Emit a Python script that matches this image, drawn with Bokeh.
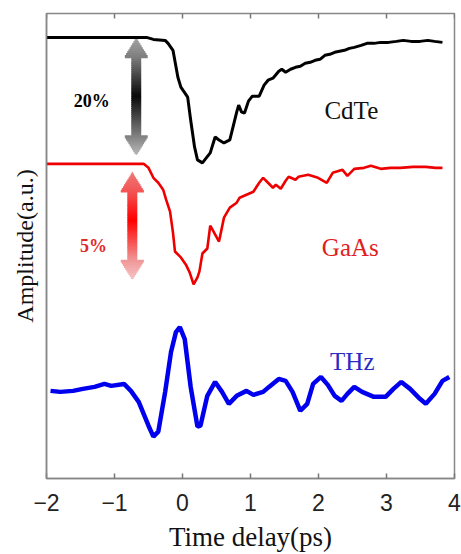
from bokeh.plotting import figure
from bokeh.models import Range1d, LinearAxis, FixedTicker, Label, ColumnDataSource
from bokeh.embed import file_html
from bokeh.resources import INLINE

# ---------------- data ----------------
x_ticks = [-2, -1, 0, 1, 2, 3, 4]
x_title = "Time delay(ps)"
y_title = "Amplitude(a.u.)"

cdte_t = [-2.0, -0.529, -0.428, -0.255, -0.212, -0.140, -0.068, -0.024, 0.076, 0.120,
          0.177, 0.220, 0.293, 0.350, 0.408, 0.480, 0.537, 0.610, 0.696, 0.797,
          0.826, 0.869, 0.912, 0.970, 1.027, 1.128, 1.200, 1.258, 1.330, 1.416,
          1.460, 1.517, 1.589, 1.661, 1.733, 1.805, 1.878, 1.950, 2.022, 2.094,
          2.166, 2.238, 2.310, 2.382, 2.454, 2.526, 2.627, 2.713, 2.814, 2.915,
          3.030, 3.146, 3.246, 3.362, 3.491, 3.607, 3.707, 3.823]
cdte_amp = [4.43, 4.43, 4.41, 4.40, 4.37, 4.30, 4.03, 3.93, 3.83, 3.60,
            3.33, 3.20, 3.17, 3.22, 3.27, 3.43, 3.40, 3.37, 3.40, 3.68,
            3.75, 3.68, 3.67, 3.79, 3.84, 3.84, 3.95, 4.00, 4.02, 4.09,
            4.11, 4.08, 4.11, 4.13, 4.14, 4.17, 4.18, 4.20, 4.21, 4.25,
            4.26, 4.28, 4.29, 4.30, 4.32, 4.33, 4.35, 4.37, 4.37, 4.38,
            4.38, 4.39, 4.40, 4.39, 4.39, 4.40, 4.39, 4.38]

gaas_t = [-2.0, -0.572, -0.500, -0.428, -0.356, -0.284, -0.241, -0.183, -0.140, -0.111,
          -0.024, 0.048, 0.105, 0.163, 0.220, 0.249, 0.293, 0.365, 0.408, 0.465,
          0.537, 0.610, 0.696, 0.797, 0.840, 0.941, 1.042, 1.128, 1.186, 1.258,
          1.330, 1.373, 1.445, 1.517, 1.561, 1.661, 1.705, 1.849, 1.993, 2.122,
          2.209, 2.353, 2.425, 2.526, 2.670, 2.771, 2.915, 3.059, 3.203, 3.390,
          3.578, 3.722, 3.823]
gaas_amp = [3.16, 3.16, 3.12, 3.02, 2.97, 2.90, 2.80, 2.68, 2.47, 2.28,
            2.22, 2.15, 2.07, 1.95, 2.02, 2.08, 2.26, 2.31, 2.54, 2.47,
            2.38, 2.62, 2.72, 2.77, 2.82, 2.85, 2.88, 2.97, 3.02, 2.97,
            2.92, 2.95, 2.91, 2.99, 3.03, 3.00, 3.03, 3.05, 3.02, 2.97,
            3.07, 3.10, 3.04, 3.11, 3.12, 3.14, 3.11, 3.12, 3.12, 3.13,
            3.13, 3.12, 3.12]

thz_t = [-1.941, -1.797, -1.610, -1.465, -1.293, -1.148, -1.048, -0.860, -0.759, -0.644,
         -0.500, -0.428, -0.356, -0.255, -0.169, -0.097, -0.039, 0.033, 0.120, 0.220,
         0.264, 0.365, 0.480, 0.581, 0.682, 0.797, 0.941, 1.042, 1.186, 1.272,
         1.416, 1.517, 1.618, 1.733, 1.834, 1.921, 2.036, 2.137, 2.238, 2.339,
         2.425, 2.526, 2.641, 2.814, 2.987, 3.102, 3.218, 3.347, 3.491, 3.578,
         3.707, 3.823, 3.924]
thz_amp = [0.88, 0.87, 0.88, 0.90, 0.92, 0.95, 0.93, 0.95, 0.88, 0.77,
           0.53, 0.42, 0.47, 0.87, 1.27, 1.47, 1.52, 1.40, 0.92, 0.52,
           0.53, 0.83, 0.97, 0.87, 0.75, 0.83, 0.88, 0.84, 0.87, 0.92,
           1.00, 0.98, 0.87, 0.68, 0.75, 0.95, 1.02, 0.94, 0.83, 0.78,
           0.85, 0.92, 0.87, 0.82, 0.82, 0.90, 0.97, 0.90, 0.80, 0.75,
           0.85, 0.98, 1.02]

# arrows marking the relative change: (x centre, top, bottom)
arrow_cdte = (-0.680, 4.43, 3.25)
arrow_gaas = (-0.738, 3.08, 2.00)

# ---------------- figure ----------------
SERIF = "Liberation Serif"
SANS = "Liberation Sans"

YMAX = 4.67
p = figure(width=461, height=554, output_backend="svg", toolbar_location=None,
           x_range=Range1d(-2, 4), y_range=Range1d(0, YMAX),
           min_border_left=46, min_border_right=7, min_border_top=13,
           min_border_bottom=74, x_axis_location=None, y_axis_location=None)
p.grid.visible = False
p.background_fill_color = "white"
p.border_fill_color = "white"
p.outline_line_color = "#888888"
p.outline_line_width = 1.5

xb = LinearAxis(ticker=FixedTicker(ticks=x_ticks), axis_label=x_title)
xb.major_tick_in = 5
xb.major_tick_out = 0
xb.minor_tick_line_color = None
xb.major_tick_line_color = "#777777"
xb.major_tick_line_width = 1.5
xb.axis_line_color = "#888888"
xb.axis_line_width = 1.5
xb.major_label_text_font = SANS
xb.major_label_text_font_size = "23px"
xb.major_label_text_color = "#222222"
xb.major_label_standoff = 15
xb.axis_label_text_font = SERIF
xb.axis_label_text_font_size = "27px"
xb.axis_label_text_font_style = "normal"
xb.axis_label_text_color = "#111111"
xb.axis_label_standoff = 8
p.add_layout(xb, "below")

yl = LinearAxis(ticker=FixedTicker(ticks=[]), axis_label=y_title)
yl.major_tick_in = 0
yl.major_tick_out = 0
yl.minor_tick_line_color = None
yl.axis_line_color = "#888888"
yl.axis_line_width = 1.5
yl.major_label_standoff = 0
yl.axis_label_text_font = SERIF
yl.axis_label_text_font_size = "24px"
yl.axis_label_text_font_style = "normal"
yl.axis_label_text_color = "#111111"
yl.axis_label_standoff = 9
p.add_layout(yl, "left")

# inward tick marks on the top edge of the frame (mirrored x ticks)
p.segment(x0=x_ticks, y0=[YMAX] * len(x_ticks), x1=x_ticks,
          y1=[YMAX - 0.05] * len(x_ticks), line_color="#777777", line_width=1.5)


def gradient_arrow(xc, ytop, ybot, stops, head_len=0.20, head_hw=0.18, shaft_hw=0.072, n=60):
    lefts, rights, tops, bottoms, colors = [], [], [], [], []
    dy = (ytop - ybot) / n
    for i in range(n):
        y0 = ytop - i * dy
        y1 = y0 - dy
        ym = 0.5 * (y0 + y1)
        dt = ytop - ym
        db = ym - ybot
        if dt < head_len:
            hw = head_hw * dt / head_len
        elif db < head_len:
            hw = head_hw * db / head_len
        else:
            hw = shaft_hw
        t = (i + 0.5) / n
        for k in range(len(stops) - 1):
            t0, c0 = stops[k]
            t1, c1 = stops[k + 1]
            if t0 <= t <= t1:
                f = (t - t0) / (t1 - t0)
                c = tuple(int(round(c0[j] + f * (c1[j] - c0[j]))) for j in range(3))
                break
        lefts.append(xc - hw)
        rights.append(xc + hw)
        tops.append(y0)
        bottoms.append(max(y1 - dy * 0.6, ybot) if i < n - 1 else y1)
        colors.append("#%02x%02x%02x" % c)
    src = ColumnDataSource(dict(left=lefts, right=rights, top=tops, bottom=bottoms, color=colors))
    p.quad(left="left", right="right", top="top", bottom="bottom", source=src,
           fill_color="color", line_color=None)


gradient_arrow(*arrow_cdte, stops=[(0.0, (165, 165, 165)), (0.17, (125, 125, 125)),
                                   (0.5, (8, 8, 8)), (0.83, (125, 125, 125)),
                                   (1.0, (185, 185, 185))])
gradient_arrow(*arrow_gaas, stops=[(0.0, (240, 120, 120)), (0.18, (242, 85, 85)),
                                   (0.45, (255, 0, 0)), (0.82, (240, 150, 150)),
                                   (1.0, (246, 196, 196))])

p.line(cdte_t, cdte_amp, line_color="#000000", line_width=3)
p.line(gaas_t, gaas_amp, line_color="#ee0000", line_width=2.6)
p.line(thz_t, thz_amp, line_color="#0000ee", line_width=4.5)

labels = [
    ("20%", -1.336, 3.79, "#000000", "bold", "18px"),
    ("5%", -1.307, 2.33, "#e02a2a", "bold", "18px"),
    ("CdTe", 2.483, 3.70, "#111111", "normal", "25px"),
    ("GaAs", 2.468, 2.32, "#e02020", "normal", "25px"),
    ("THz", 2.497, 1.18, "#2b2bc4", "normal", "25px"),
]
for txt, lx, ly, col, style, size in labels:
    p.add_layout(Label(x=lx, y=ly, text=txt, text_color=col, text_font=SERIF,
                       text_font_style=style, text_font_size=size,
                       text_align="center", text_baseline="middle"))

open("out.html", "w").write(file_html(p, INLINE))
